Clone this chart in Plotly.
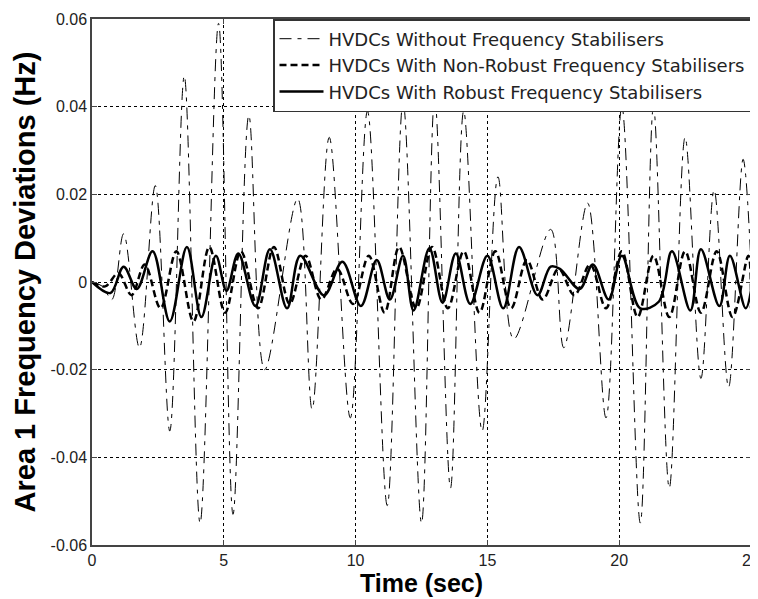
import plotly.graph_objects as go

# Extrema (time in s, deviation in Hz)
t_without = [0, 0.4, 0.75, 1.2, 1.8, 2.4, 2.95, 3.5, 4.1, 4.8, 5.35, 5.95, 6.55, 7.8, 8.35, 9.0, 9.8,
             10.45, 11.2, 11.8, 12.5, 13.0, 13.6, 14.1, 14.8, 15.4, 16.0, 17.4, 17.9, 18.8, 19.5,
             20.1, 20.8, 21.3, 21.9, 22.5, 23.1, 23.6, 24.15, 24.7, 25.0]
v_without = [0, -0.001, -0.004, 0.011, -0.015, 0.022, -0.034, 0.047, -0.055, 0.059, -0.053, 0.038, -0.020,
             0.019, -0.029, 0.033, -0.031, 0.039, -0.051, 0.041, -0.055, 0.042, -0.047, 0.039, -0.034,
             0.024, -0.013, 0.012, -0.015, 0.018, -0.031, 0.040, -0.055, 0.040, -0.047, 0.033, -0.022,
             0.021, -0.024, 0.028, 0.004]

t_nonrobust = [0, 0.5, 1.0, 1.5, 2.0, 2.6, 3.2, 3.85, 4.45, 5.05, 5.65, 6.3, 6.9, 7.5, 8.1, 8.7, 9.3, 9.9,
               10.5, 11.1, 11.65, 12.3, 12.9, 13.5, 14.1, 14.7, 15.3, 15.9, 16.5, 17.1, 17.7, 18.3,
               18.9, 19.5, 20.1, 20.7, 21.3, 21.9, 22.5, 23.1, 23.7, 24.3, 24.9, 25.0]
v_nonrobust = [0, -0.001, 0.002, -0.003, 0.004, -0.006, 0.007, -0.009, 0.008, -0.007, 0.007, -0.006,
               0.008, -0.005, 0.006, -0.004, 0.003, -0.005, 0.006, -0.007, 0.008, -0.006, 0.008, -0.006,
               0.007, -0.007, 0.007, -0.006, 0.005, -0.004, 0.003, -0.003, 0.004, -0.006, 0.007, -0.008,
               0.006, -0.008, 0.007, -0.007, 0.007, -0.008, 0.006, -0.006]

t_robust = [0, 0.7, 1.2, 1.7, 2.3, 2.95, 3.6, 4.15, 4.7, 5.1, 5.55, 6.2, 6.75, 7.4, 7.9, 8.8, 9.5, 10.2,
            10.8, 11.3, 11.8, 12.2, 12.8, 13.3, 13.8, 14.35, 15.0, 15.6, 16.2, 16.9, 17.4, 17.75,
            18.5, 19.0, 19.6, 20.1, 20.8, 21.5, 22.0, 22.7, 23.1, 23.8, 24.2, 24.8, 25.0]
v_robust = [0, -0.0025, 0.0035, -0.0016, 0.007, -0.009, 0.008, -0.008, 0.006, -0.002, 0.0065, -0.0055,
            0.0075, -0.006, 0.006, -0.003, 0.0046, -0.0055, 0.005, -0.004, 0.006, -0.0065, 0.0077,
            -0.0047, 0.0065, -0.005, 0.006, -0.006, 0.008, -0.003, 0.0035, 0.003, -0.0016, 0.004,
            -0.004, 0.006, -0.006, -0.0045, 0.007, -0.0065, 0.0075, -0.0055, 0.006, -0.006, -0.002]

x_ticks = [0, 5, 10, 15, 20, 25]
y_ticks = [-0.06, -0.04, -0.02, 0, 0.02, 0.04, 0.06]
y_tick_text = ["-0.06", "-0.04", "-0.02", "0", "0.02", "0.04", "0.06"]

names = ["HVDCs Without Frequency Stabilisers",
         "HVDCs With Non-Robust Frequency Stabilisers",
         "HVDCs With Robust Frequency Stabilisers"]

fig = go.Figure()
fig.add_trace(go.Scatter(x=t_without, y=v_without, mode="lines", name=names[0],
                         line=dict(color="black", width=1, dash="12px,6px,4px,6px", shape="spline", smoothing=1.0)))
fig.add_trace(go.Scatter(x=t_nonrobust, y=v_nonrobust, mode="lines", name=names[1],
                         line=dict(color="black", width=2.5, dash="7px,4px", shape="spline", smoothing=1.0)))
fig.add_trace(go.Scatter(x=t_robust, y=v_robust, mode="lines", name=names[2],
                         line=dict(color="black", width=2.5, shape="spline", smoothing=1.0)))

axis_common = dict(showline=True, linecolor="#444444", linewidth=1.5, mirror="ticks",
                   ticks="inside", ticklen=5, tickcolor="#444444", automargin=False,
                   showgrid=True, gridcolor="black", gridwidth=1, griddash="3px,3px",
                   zeroline=False, tickfont=dict(family="Arial, Liberation Sans", size=16, color="#222"))

fig.update_xaxes(range=[0, 25], tickvals=x_ticks, ticktext=[str(v) for v in x_ticks],
                 ticklabeloverflow="allow",
                 title=dict(text="<b>Time (sec)</b>",
                            font=dict(family="Arial, Liberation Sans", size=25, color="black"), standoff=6),
                 **axis_common)
fig.update_yaxes(range=[-0.06, 0.06], tickvals=y_ticks, ticktext=y_tick_text,
                 title=dict(text="<b>Area 1 Frequency Deviations (Hz)</b>",
                            font=dict(family="Arial, Liberation Sans", size=29, color="black"), standoff=6),
                 **axis_common)

# page body has an 8px margin, so the figure is sized/offset to compensate
fig.update_layout(
    width=750, height=591,
    margin=dict(l=84, r=7, t=11, b=54),
    plot_bgcolor="white", paper_bgcolor="white",
    showlegend=True,
    legend=dict(x=1, y=1, xanchor="right", yanchor="top", bgcolor="white",
                bordercolor="#333333", borderwidth=1.5,
                font=dict(family="DejaVu Sans", size=18, color="#222"),
                tracegroupgap=0, itemwidth=44),
)

fig.write_html("out.html")
